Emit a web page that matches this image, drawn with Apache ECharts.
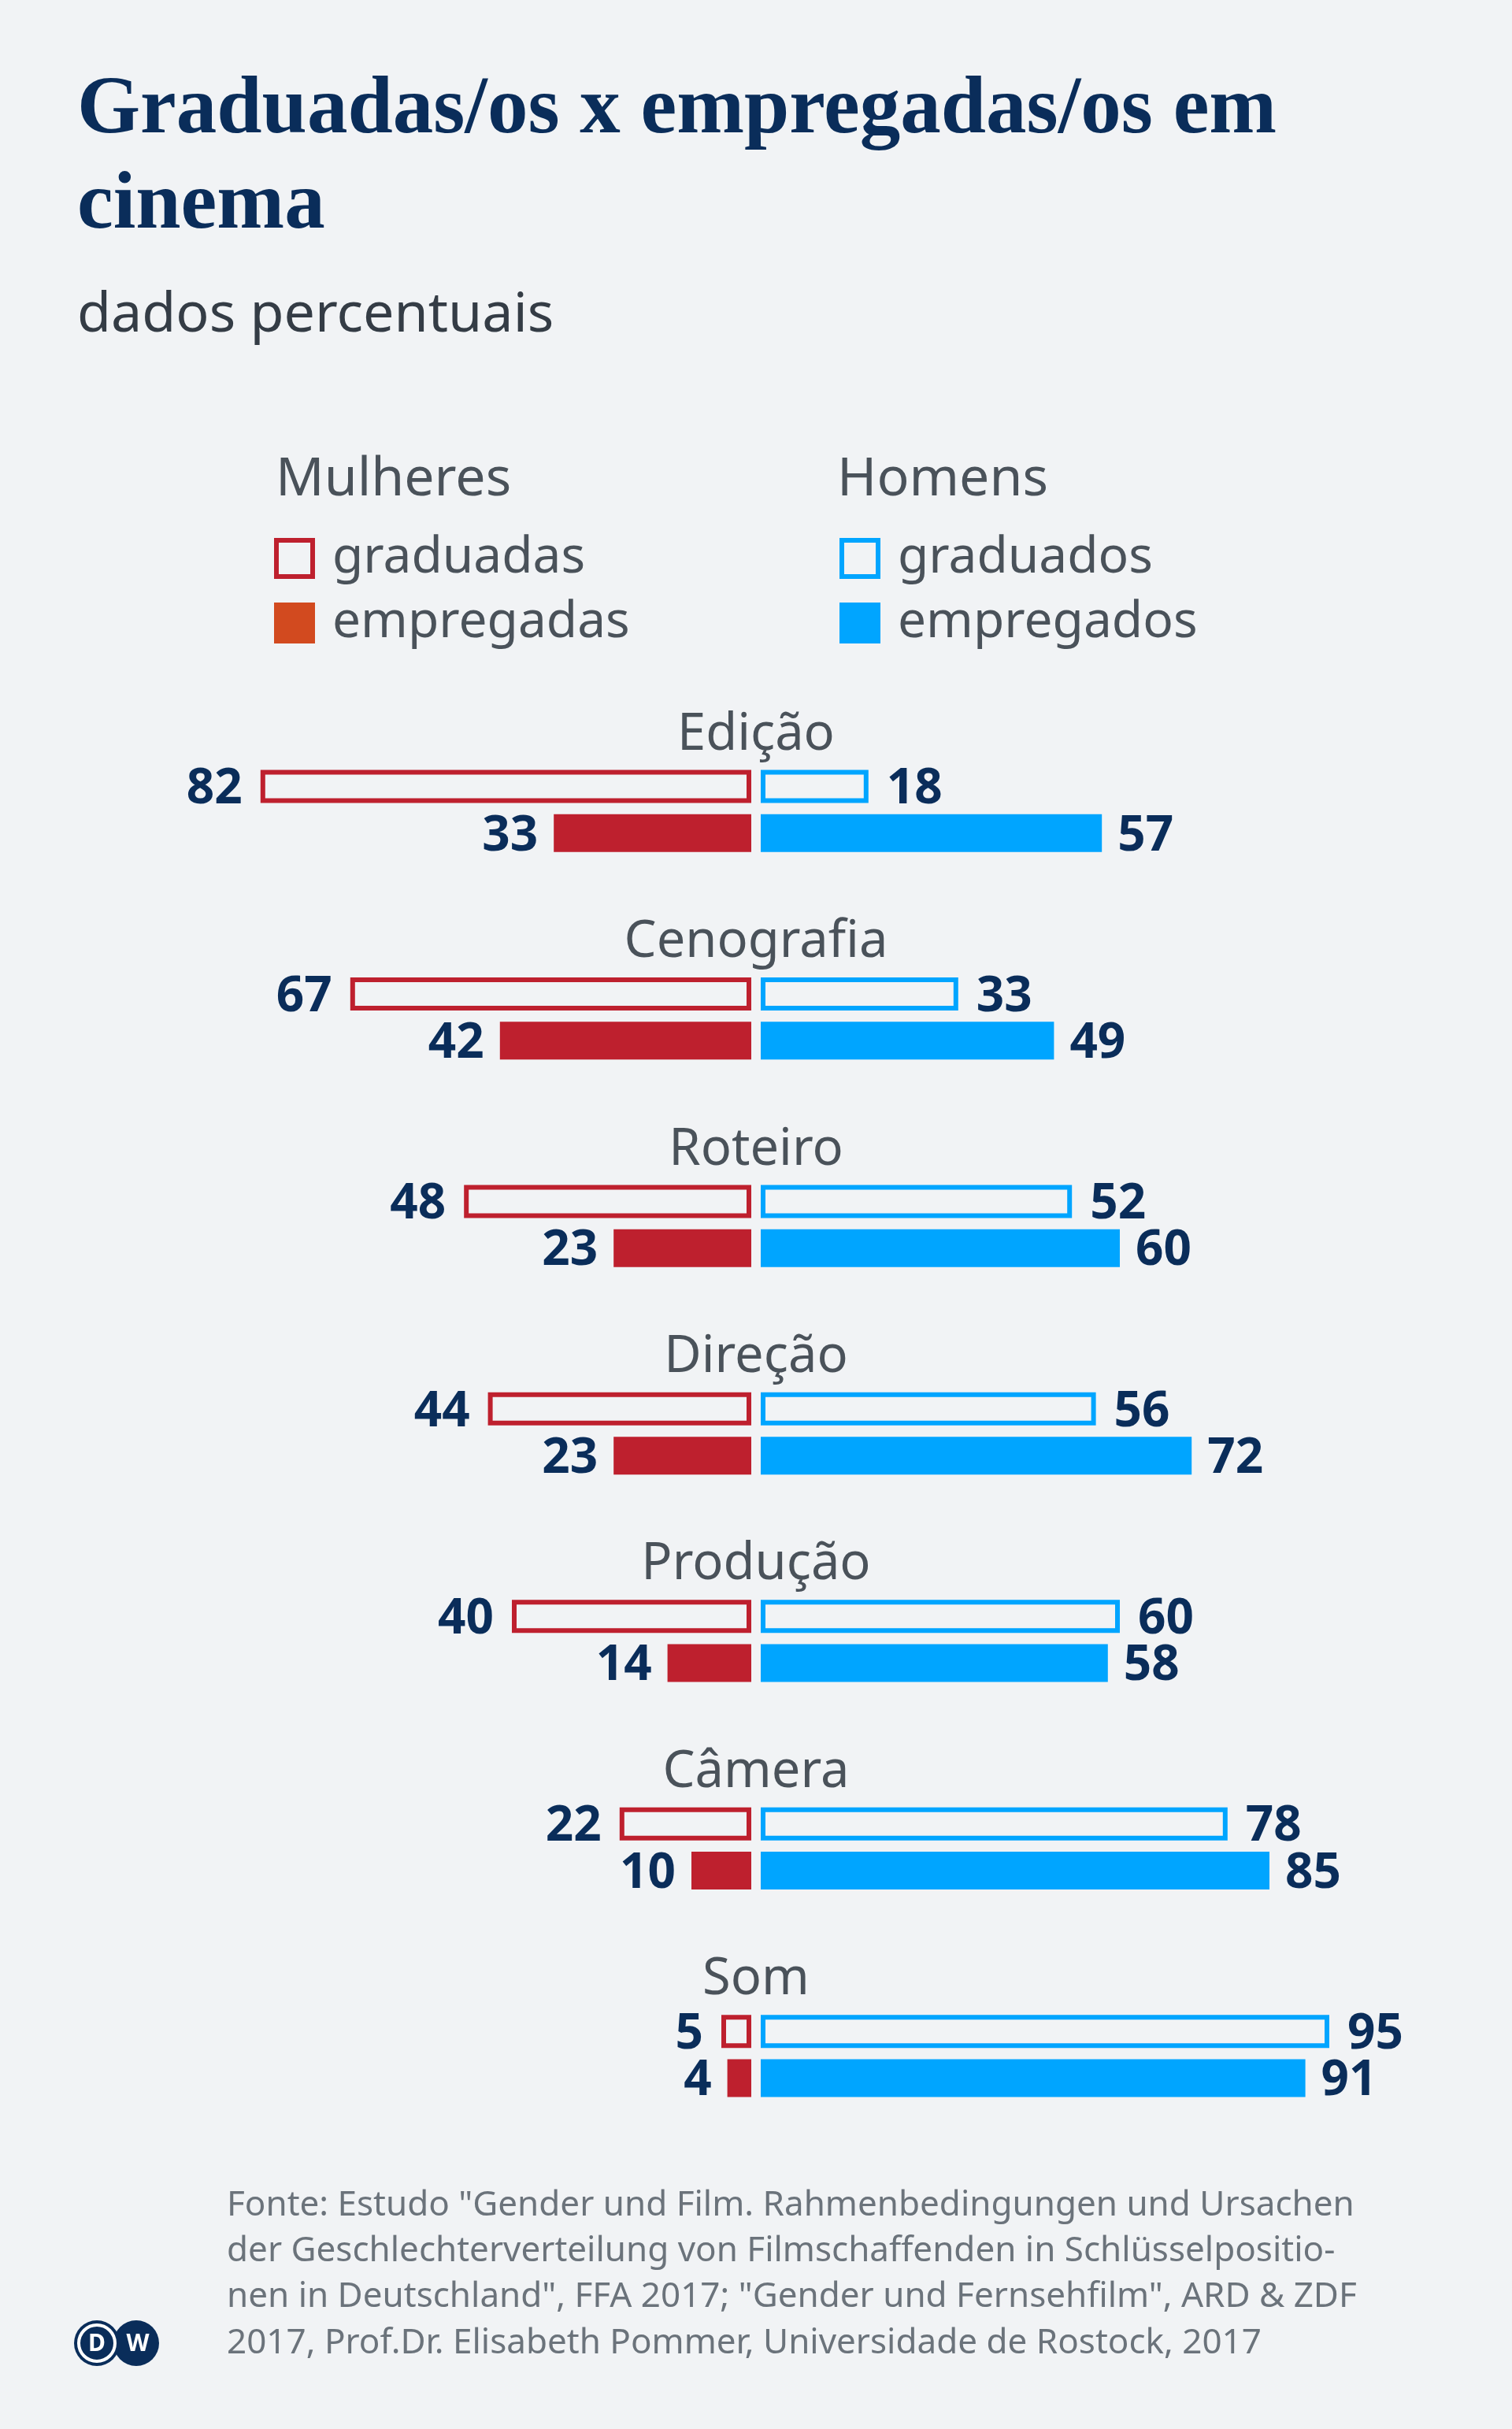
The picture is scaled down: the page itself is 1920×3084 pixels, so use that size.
<!DOCTYPE html>
<html>
<head>
<meta charset="utf-8">
<script src="https://cdn.jsdelivr.net/npm/echarts@6/dist/echarts.min.js"></script>
<style>
html,body{margin:0;padding:0;background:#f1f3f5;}
#chart{width:1920px;height:3084px;}
</style>
</head>
<body>
<div id="chart"></div>
<script>
const categories = ['Edição','Cenografia','Roteiro','Direção','Produção','Câmera','Som'];
const mulheresGraduadas = [82,67,48,44,40,22,5];
const mulheresEmpregadas = [33,42,23,23,14,10,4];
const homensGraduados = [18,33,52,56,60,78,95];
const homensEmpregados = [57,49,60,72,58,85,91];

const titleText = 'Graduadas/os x empregadas/os em\ncinema';
const subtitleText = 'dados percentuais';
const sourceText = 'Fonte: Estudo "Gender und Film. Rahmenbedingungen und Ursachen\nder Geschlechterverteilung von Filmschaffenden in Schlüsselpositio-\nnen in Deutschland", FFA 2017; "Gender und Fernsehfilm", ARD & ZDF\n2017, Prof.Dr. Elisabeth Pommer, Universidade de Rostock, 2017';

const RED = '#be202e';
const BLUE = '#00a5ff';
const ORANGE = '#d24a1f';
const NAVY = '#0a2d5a';
const GREY = '#4a525a';
const SANS = 'Noto Sans';

const chart = echarts.init(document.getElementById('chart'), null, {renderer:'canvas'});

const gridTop = 898, gridHeight = 1844;
const valueLabel = (pos, dist) => ({
  show: true, position: pos, distance: dist, offset: [0, 4],
  fontFamily: SANS, fontWeight: 'bold', fontSize: 62, color: NAVY
});

const option = {
  backgroundColor: '#f1f3f5',
  animation: false,
  title: [
    {text: titleText, left: 98, top: 81, padding: 0,
     textStyle: {fontFamily: 'Liberation Serif', fontWeight: 'bold', fontSize: 103, lineHeight: 121, color: NAVY}},
    {text: subtitleText, left: 98, top: 366, padding: 0,
     textStyle: {fontFamily: SANS, fontWeight: 'normal', fontSize: 70, lineHeight: 70, color: '#343c45'}},
    {text: 'Mulheres', left: 350, top: 576, padding: 0,
     textStyle: {fontFamily: SANS, fontWeight: 'normal', fontSize: 68, lineHeight: 68, color: GREY}},
    {text: 'Homens', left: 1063, top: 576, padding: 0,
     textStyle: {fontFamily: SANS, fontWeight: 'normal', fontSize: 68, lineHeight: 68, color: GREY}},
    {text: sourceText, left: 288, top: 2771, padding: 0,
     textStyle: {fontFamily: SANS, fontWeight: 'normal', fontSize: 44, lineHeight: 58.3, color: '#6b737b'}}
  ],
  legend: [
    {orient: 'vertical', left: 348, top: 677, padding: 0, itemWidth: 46, itemHeight: 46, itemGap: 18,
     selectedMode: false, icon: 'rect',
     textStyle: {fontFamily: SANS, fontSize: 64, color: GREY, padding: [0,0,0,20]},
     data: [
       {name: 'graduadas', itemStyle: {color: 'transparent', borderColor: RED, borderWidth: 6}},
       {name: 'empregadas', itemStyle: {color: ORANGE, borderColor: ORANGE, borderWidth: 6}}
     ]},
    {orient: 'vertical', left: 1066, top: 677, padding: 0, itemWidth: 46, itemHeight: 46, itemGap: 18,
     selectedMode: false, icon: 'rect',
     textStyle: {fontFamily: SANS, fontSize: 64, color: GREY, padding: [0,0,0,20]},
     data: [
       {name: 'graduados', itemStyle: {color: 'transparent', borderColor: BLUE, borderWidth: 6}},
       {name: 'empregados', itemStyle: {color: BLUE, borderColor: BLUE, borderWidth: 6}}
     ]}
  ],
  grid: [
    {left: 194, width: 760, top: gridTop, height: gridHeight},
    {left: 966, width: 760, top: gridTop, height: gridHeight}
  ],
  xAxis: [
    {gridIndex: 0, type: 'value', min: 0, max: 100, inverse: true, show: false},
    {gridIndex: 1, type: 'value', min: 0, max: 100, show: false}
  ],
  yAxis: [
    {gridIndex: 0, type: 'category', data: categories, inverse: true, show: false},
    {gridIndex: 1, type: 'category', data: categories, inverse: true, position: 'left',
     axisLine: {show: false}, axisTick: {show: false}, splitLine: {show: false},
     axisLabel: {show: true, margin: 6, align: 'center', verticalAlign: 'bottom',
       fontFamily: SANS, fontSize: 65, lineHeight: 65, color: GREY, padding: [0,0,64,0]}}
  ],
  series: [
    {name: 'graduadas', type: 'bar', xAxisIndex: 0, yAxisIndex: 0, data: mulheresGraduadas,
     barWidth: 42, barGap: '34%',
     itemStyle: {color: 'transparent', borderColor: RED, borderWidth: 6},
     label: valueLabel('left', 23)},
    {name: 'empregadas', type: 'bar', xAxisIndex: 0, yAxisIndex: 0, data: mulheresEmpregadas,
     barWidth: 48,
     itemStyle: {color: RED},
     label: valueLabel('left', 20)},
    {name: 'graduados', type: 'bar', xAxisIndex: 1, yAxisIndex: 1, data: homensGraduados,
     barWidth: 42, barGap: '34%',
     itemStyle: {color: 'transparent', borderColor: BLUE, borderWidth: 6},
     label: valueLabel('right', 23)},
    {name: 'empregados', type: 'bar', xAxisIndex: 1, yAxisIndex: 1, data: homensEmpregados,
     barWidth: 48,
     itemStyle: {color: BLUE},
     label: valueLabel('right', 20)}
  ],
  graphic: [
    {type: 'circle', shape: {cx: 173, cy: 2975, r: 29}, style: {fill: NAVY}},
    {type: 'circle', shape: {cx: 123, cy: 2975, r: 29}, style: {fill: NAVY}},
    {type: 'circle', shape: {cx: 123, cy: 2975, r: 23}, style: {fill: 'none', stroke: '#ffffff', lineWidth: 4}},
    {type: 'text', x: 123, y: 2976, style: {text: 'D', fill: '#fff', font: 'bold 30px "Noto Sans"', align: 'center', verticalAlign: 'middle'}},
    {type: 'text', x: 175, y: 2976, style: {text: 'W', fill: '#fff', font: 'bold 30px "Noto Sans"', align: 'center', verticalAlign: 'middle'}}
  ]
};
chart.setOption(option);
</script>
</body>
</html>
